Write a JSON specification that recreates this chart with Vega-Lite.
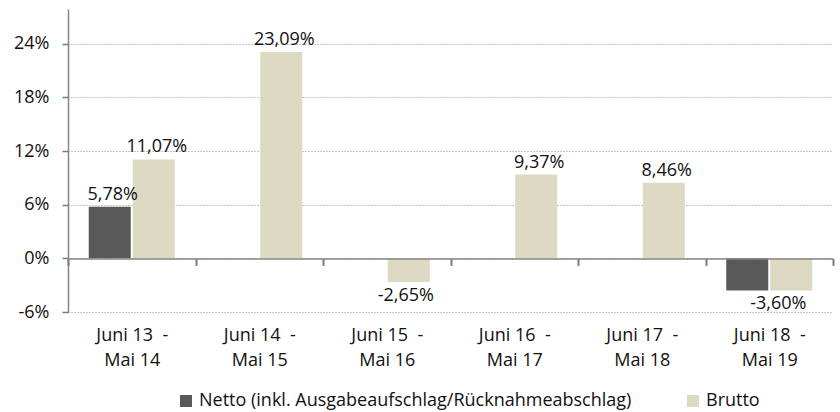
{
  "$schema": "https://vega.github.io/schema/vega-lite/v6.json",
  "width": 765,
  "height": 303,
  "autosize": {"type": "none"},
  "padding": {"left": 68, "top": 9, "right": 7, "bottom": 100},
  "config": {
    "locale": {"number": {"decimal": ",", "thousands": ".", "grouping": [3], "currency": ["", " €"], "minus": "-"}},
    "view": {"stroke": null},
    "font": "Open Sans",
    "text": {"font": "Open Sans"}
  },
  "data": {
    "values": [
      {"period": "Juni 13 - Mai 14", "series": "Netto (inkl. Ausgabeaufschlag/Rücknahmeabschlag)", "value": 0.0578},
      {"period": "Juni 13 - Mai 14", "series": "Brutto", "value": 0.1107},
      {"period": "Juni 14 - Mai 15", "series": "Brutto", "value": 0.2309},
      {"period": "Juni 15 - Mai 16", "series": "Brutto", "value": -0.0265},
      {"period": "Juni 16 - Mai 17", "series": "Brutto", "value": 0.0937},
      {"period": "Juni 17 - Mai 18", "series": "Brutto", "value": 0.0846},
      {"period": "Juni 18 - Mai 19", "series": "Netto (inkl. Ausgabeaufschlag/Rücknahmeabschlag)", "value": -0.036},
      {"period": "Juni 18 - Mai 19", "series": "Brutto", "value": -0.036}
    ]
  },
  "encoding": {
    "x": {
      "field": "period",
      "type": "nominal",
      "sort": null,
      "scale": {"paddingInner": 0, "paddingOuter": 0},
      "axis": {
        "title": null,
        "orient": "bottom",
        "offset": -53.6,
        "zindex": 1,
        "domainColor": "#868686",
        "domainWidth": 1.5,
        "ticks": true,
        "tickColor": "#7a7a7a",
        "tickWidth": 2,
        "tickSize": 7,
        "tickBand": "extent",
        "tickExtra": true,
        "grid": false,
        "labelAngle": 0,
        "labelBaseline": "top",
        "labelPadding": 61,
        "labelFontSize": 18,
        "labelColor": "#111111",
        "labelLineHeight": 25,
        "labelExpr": "indexof(datum.label + '', ' - ') >= 0 ? [split(datum.label, ' - ')[0] + ' \u00a0-', split(datum.label, ' - ')[1]] : ''"
      }
    },
    "xOffset": {
      "field": "series",
      "type": "nominal",
      "scale": {"domain": ["Netto (inkl. Ausgabeaufschlag/Rücknahmeabschlag)", "Brutto"], "paddingInner": 0.045, "paddingOuter": 0.4715}
    },
    "y": {
      "field": "value",
      "type": "quantitative",
      "scale": {"domain": [-0.06, 0.279], "nice": false, "zero": false},
      "axis": {
        "title": null,
        "values": [-0.06, 0, 0.06, 0.12, 0.18, 0.24],
        "format": ".0%",
        "grid": true,
        "gridDash": [1, 2],
        "gridColor": "#8c8c8c",
        "gridWidth": 1,
        "domainColor": "#868686",
        "domainWidth": 1.5,
        "ticks": true,
        "tickColor": "#7a7a7a",
        "tickWidth": 1.5,
        "tickSize": 6,
        "labelPadding": 13,
        "labelFontSize": 18,
        "labelColor": "#111111"
      }
    }
  },
  "layer": [
    {
      "mark": {"type": "bar"},
      "encoding": {
        "color": {
          "field": "series",
          "type": "nominal",
          "scale": {"domain": ["Netto (inkl. Ausgabeaufschlag/Rücknahmeabschlag)", "Brutto"], "range": ["#595959", "#DDD9C3"]},
          "legend": {
            "title": null,
            "orient": "none",
            "direction": "horizontal",
            "legendX": 109,
            "legendY": 383,
            "padding": 0,
            "symbolType": "square",
            "symbolSize": 144,
            "symbolStrokeWidth": 0,
            "symbolOpacity": 1,
            "labelFontSize": 18,
            "labelColor": "#111111",
            "labelLimit": 700,
            "labelOffset": 4,
            "columnPadding": 52
          }
        }
      }
    },
    {
      "transform": [{"filter": "datum.value > 0"}],
      "mark": {"type": "text", "baseline": "alphabetic", "dy": -7, "dx": 3, "fontSize": 18, "color": "#111111"},
      "encoding": {"text": {"field": "value", "type": "quantitative", "format": ".2%"}}
    },
    {
      "transform": [{"filter": "datum.series == 'Brutto' && datum.value < 0 && datum.value > -0.03"}],
      "mark": {"type": "text", "baseline": "top", "dy": 5, "dx": -3, "fontSize": 18, "color": "#111111"},
      "encoding": {"text": {"field": "value", "type": "quantitative", "format": ".2%"}}
    },
    {
      "transform": [{"filter": "datum.series == 'Brutto' && datum.value < -0.03"}],
      "mark": {"type": "text", "baseline": "top", "dy": 4, "dx": -13, "fontSize": 18, "color": "#111111"},
      "encoding": {"text": {"field": "value", "type": "quantitative", "format": ".2%"}}
    }
  ]
}
